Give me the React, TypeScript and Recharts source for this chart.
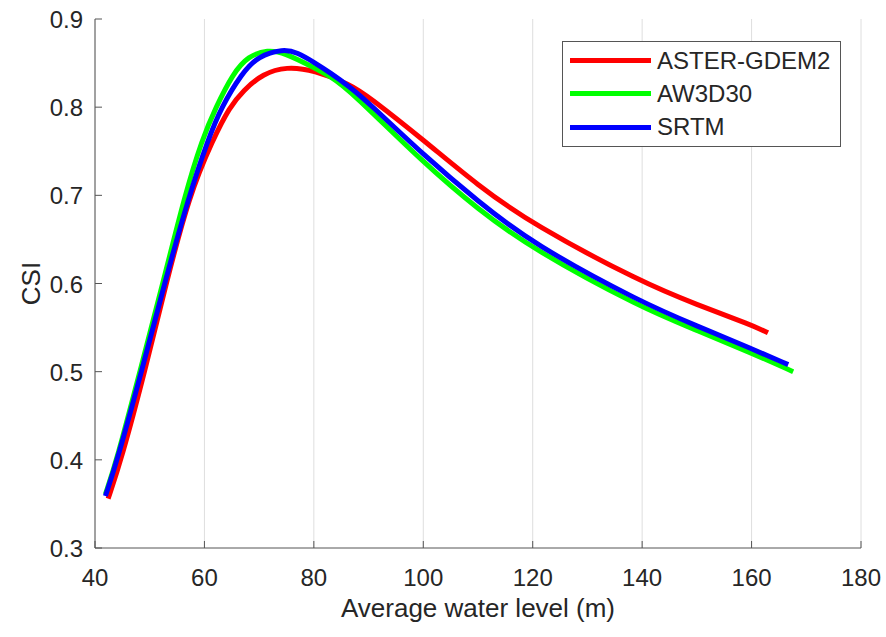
import { LineChart, Line, XAxis, YAxis, CartesianGrid, Legend, Label } from 'recharts';

// ── data ──────────────────────────────────────────────────────────────────────

const X_TICKS = [40, 60, 80, 100, 120, 140, 160, 180];
const Y_TICKS = [0.3, 0.4, 0.5, 0.6, 0.7, 0.8, 0.9];

const ASTER_X = [42.4, 44.8, 49.1, 53.0, 57.2, 61.6, 64.6, 67.1, 70.7, 75.0, 80.0, 86.6, 90.0, 100, 110, 120, 140, 150, 160, 163];
const ASTER_Y = [0.356, 0.400, 0.500, 0.600, 0.700, 0.764, 0.800, 0.819, 0.838, 0.846, 0.842, 0.826, 0.812, 0.763, 0.711, 0.667, 0.601, 0.576, 0.553, 0.544];

const AW3D_X = [41.9, 44.0, 48.2, 52.4, 56.4, 59.6, 62.1, 65.2, 68.0, 71.6, 74.5, 80.0, 83.0, 86.6, 100, 110, 120, 140, 150, 160, 167.6];
const AW3D_Y = [0.361, 0.400, 0.500, 0.600, 0.700, 0.764, 0.800, 0.838, 0.858, 0.865, 0.862, 0.845, 0.835, 0.819, 0.737, 0.684, 0.639, 0.572, 0.547, 0.521, 0.500];

const SRTM_X = [41.9, 44.1, 48.5, 52.7, 57.2, 60.7, 63.1, 66.8, 69.8, 74.4, 77.0, 80.0, 83.0, 86.6, 90.0, 100, 110, 120, 140, 150, 160, 166.7];
const SRTM_Y = [0.359, 0.400, 0.500, 0.600, 0.700, 0.764, 0.800, 0.838, 0.858, 0.866, 0.862, 0.851, 0.839, 0.823, 0.805, 0.746, 0.693, 0.645, 0.578, 0.552, 0.526, 0.508];

const zip = (xs: number[], ys: number[]) => xs.map((x, i) => ({ x, y: ys[i] }));

const SERIES = [
  { name: 'ASTER-GDEM2', color: '#ff0000', data: zip(ASTER_X, ASTER_Y) },
  { name: 'AW3D30',      color: '#00ff00', data: zip(AW3D_X, AW3D_Y) },
  { name: 'SRTM',        color: '#0000ff', data: zip(SRTM_X, SRTM_Y) },
];

// ── style ─────────────────────────────────────────────────────────────────────

const FONT = '"Liberation Sans", Arial, Helvetica, sans-serif';
const TXT = '#262626';
const AXIS = '#555555';
const TICK_FS = 24;
const TICK_LEN = 7;

// ── ticks (MATLAB style, pointing inward) ─────────────────────────────────────

function BottomTick({ x, y, payload }: any) {
  return (
    <g>
      <line x1={x} x2={x} y1={y} y2={y - TICK_LEN} stroke={AXIS} />
      <text x={x} y={y + 38} textAnchor="middle" fontSize={TICK_FS} fill={TXT} fontFamily={FONT}>
        {payload.value}
      </text>
    </g>
  );
}

function TopTick({ x, y }: any) {
  return <line x1={x} x2={x} y1={y} y2={y + TICK_LEN} stroke={AXIS} />;
}

function LeftTick({ x, y, payload }: any) {
  return (
    <g>
      <line x1={x} x2={x + TICK_LEN} y1={y} y2={y} stroke={AXIS} />
      <text x={x - 12} y={y + 9} textAnchor="end" fontSize={TICK_FS} fill={TXT} fontFamily={FONT}>
        {Number(payload.value).toFixed(1)}
      </text>
    </g>
  );
}

function RightTick({ x, y }: any) {
  return <line x1={x} x2={x - TICK_LEN} y1={y} y2={y} stroke={AXIS} />;
}

// ── legend ────────────────────────────────────────────────────────────────────

function LegendBox() {
  return (
    <div
      style={{
        width: 279, height: 106, boxSizing: 'border-box',
        border: `1px solid ${AXIS}`, background: '#fff',
        padding: '2px 0 0 7px', fontFamily: FONT,
      }}
    >
      {SERIES.map((s) => (
        <div key={s.name} style={{ display: 'flex', alignItems: 'center', height: 33.3 }}>
          <span style={{ display: 'inline-block', width: 81, height: 5, background: s.color }} />
          <span style={{ marginLeft: 6, fontSize: 24, lineHeight: '24px', color: TXT }}>{s.name}</span>
        </div>
      ))}
    </div>
  );
}

// ── main ──────────────────────────────────────────────────────────────────────

export default function App() {
  return (
    <div style={{ position: 'absolute', left: 0, top: 0, background: '#fff' }}>
      <LineChart width={886} height={637} margin={{ top: 19, right: 25, left: 0, bottom: 0 }}>
        <CartesianGrid horizontal={false} stroke="#dedede" strokeWidth={1} />
        <XAxis
          dataKey="x" type="number" domain={[40, 180]} ticks={X_TICKS}
          height={89} stroke={AXIS} tickSize={0} tickMargin={0}
          tick={<BottomTick />} allowDataOverflow
        >
          <Label
            content={({ viewBox }: any) => (
              <text
                x={viewBox.x + viewBox.width / 2} y={viewBox.y + 69}
                textAnchor="middle" fontSize={26} fill={TXT} fontFamily={FONT}
              >
                Average water level (m)
              </text>
            )}
          />
        </XAxis>
        <XAxis
          xAxisId="top" orientation="top" dataKey="x" type="number" domain={[40, 180]}
          ticks={X_TICKS} height={0} stroke={AXIS} tickSize={0} tickMargin={0}
          tick={<TopTick />} allowDataOverflow
        />
        <YAxis
          type="number" domain={[0.3, 0.9]} ticks={Y_TICKS} width={95}
          stroke={AXIS} tickSize={0} tickMargin={0} tick={<LeftTick />} allowDataOverflow
        >
          <Label
            content={({ viewBox }: any) => {
              const cx = viewBox.x + 40;
              const cy = viewBox.y + viewBox.height / 2;
              return (
                <text
                  x={cx} y={cy} transform={`rotate(-90 ${cx} ${cy})`}
                  textAnchor="middle" fontSize={26} fill={TXT} fontFamily={FONT}
                >
                  CSI
                </text>
              );
            }}
          />
        </YAxis>
        <YAxis
          yAxisId="right" orientation="right" type="number" domain={[0.3, 0.9]}
          ticks={Y_TICKS} width={0} stroke={AXIS} tickSize={0} tickMargin={0}
          tick={<RightTick />} allowDataOverflow
        />
        {SERIES.map((s) => (
          <Line
            key={s.name}
            data={s.data}
            dataKey="y"
            name={s.name}
            type="basis"
            stroke={s.color}
            strokeWidth={5}
            dot={false}
            activeDot={false}
            isAnimationActive={false}
          />
        ))}
        <Legend
          layout="horizontal" verticalAlign="middle" align="center"
          content={() => <LegendBox />}
          wrapperStyle={{ left: 562, top: 41, width: 279, height: 106 }}
        />
      </LineChart>
    </div>
  );
}
